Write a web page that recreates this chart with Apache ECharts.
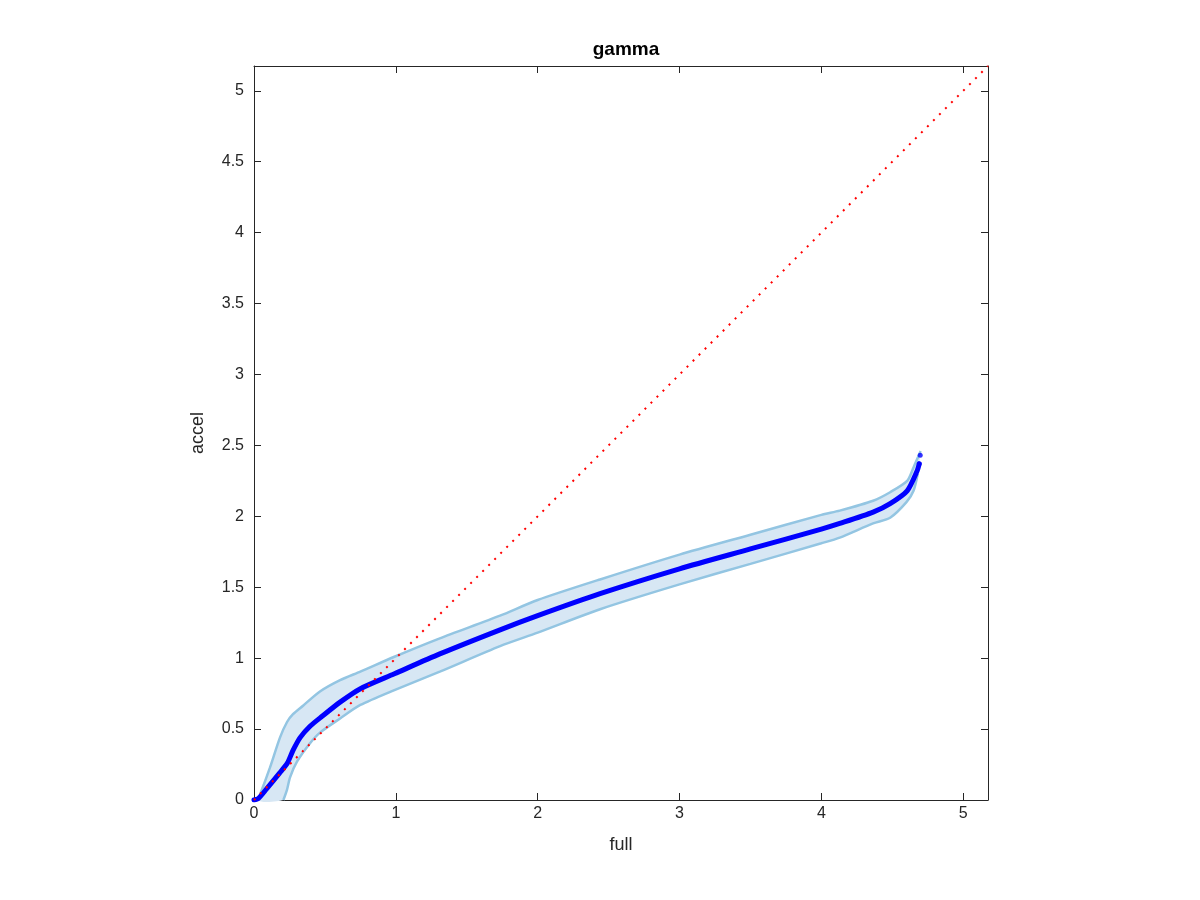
<!DOCTYPE html>
<html>
<head>
<meta charset="utf-8">
<script src="https://cdn.jsdelivr.net/npm/echarts@6/dist/echarts.min.js"></script>
<style>html,body{margin:0;padding:0;background:#fff;}#c{width:1200px;height:900px;}</style>
</head>
<body>
<div id="c"></div>
<script>
// ---- data ----
const axisMax = 5.175;
const xTicks = [0, 1, 2, 3, 4, 5];
const yTicks = [0, 0.5, 1, 1.5, 2, 2.5, 3, 3.5, 4, 4.5, 5];

const centerX = [0, 0.03, 0.09, 0.18, 0.235, 0.275, 0.325, 0.395, 0.48, 0.607, 0.75, 0.99, 1.31, 1.735, 2.0, 2.44, 3.0, 3.5, 4.0, 4.13, 4.365, 4.485, 4.605, 4.675, 4.69];
const centerY = [0, 0.01, 0.08, 0.19, 0.26, 0.35, 0.44, 0.52, 0.59, 0.69, 0.785, 0.89, 1.03, 1.20, 1.30, 1.455, 1.63, 1.77, 1.91, 1.95, 2.03, 2.09, 2.18, 2.32, 2.37];

const tailX = [4.69, 4.697];
const tailY = [2.37, 2.43];

const upperX = [0.03, 0.113, 0.183, 0.233, 0.275, 0.346, 0.465, 0.607, 0.75, 0.99, 1.31, 1.735, 2.0, 2.44, 3.0, 3.5, 4.0, 4.13, 4.365, 4.485, 4.605, 4.65, 4.70];
const upperY = [0.0, 0.23, 0.44, 0.55, 0.605, 0.665, 0.765, 0.845, 0.905, 1.01, 1.14, 1.30, 1.41, 1.555, 1.73, 1.87, 2.01, 2.04, 2.11, 2.17, 2.25, 2.345, 2.46];

const lowerX = [0.207, 0.232, 0.254, 0.303, 0.395, 0.465, 0.607, 0.75, 0.99, 1.31, 1.735, 2.0, 2.44, 3.0, 3.5, 4.0, 4.13, 4.365, 4.485, 4.6, 4.65, 4.68];
const lowerY = [0, 0.07, 0.16, 0.27, 0.40, 0.475, 0.575, 0.67, 0.775, 0.905, 1.085, 1.18, 1.345, 1.52, 1.665, 1.81, 1.85, 1.95, 1.99, 2.10, 2.18, 2.30];

const refX = [0, axisMax];
const refY = [0, axisMax];

// ---- build ----
const zip = (a, b) => a.map((v, i) => [v, b[i]]);
const centerData = zip(centerX, centerY);
const upperData = zip(upperX, upperY);
const lowerData = zip(lowerX, lowerY);
const tailData = zip(tailX, tailY);
const refData = zip(refX, refY);

const font = 'Liberation Sans, Arial, Helvetica, sans-serif';
const axisCol = '#262626';
const SMOOTH = 0.25;

function mkX(pos, showLabel) {
  return {
    type: 'value', position: pos, min: 0, max: axisMax, interval: 1,
    name: showLabel ? 'full' : '', nameLocation: 'middle', nameGap: 36,
    nameTextStyle: { fontFamily: font, fontSize: 18, color: axisCol },
    axisLine: { show: true, onZero: false, lineStyle: { color: axisCol, width: 1 } },
    axisTick: { show: true, inside: true, length: 7, lineStyle: { color: axisCol } },
    axisLabel: { show: showLabel, showMaxLabel: false, margin: 6, fontFamily: font, fontSize: 16, color: axisCol,
      formatter: v => xTicks.indexOf(v) >= 0 ? String(v) : '' },
    splitLine: { show: false }
  };
}
function mkY(pos, showLabel) {
  return {
    type: 'value', position: pos, min: 0, max: axisMax, interval: 0.5,
    name: showLabel ? 'accel' : '', nameLocation: 'middle', nameGap: 47,
    nameTextStyle: { fontFamily: font, fontSize: 18, color: axisCol },
    axisLine: { show: true, onZero: false, lineStyle: { color: axisCol, width: 1 } },
    axisTick: { show: true, inside: true, length: 7, lineStyle: { color: axisCol } },
    axisLabel: { show: showLabel, showMaxLabel: false, margin: 10, fontFamily: font, fontSize: 16, color: axisCol,
      formatter: v => yTicks.indexOf(v) >= 0 ? String(v) : '' },
    splitLine: { show: false }
  };
}

const chart = echarts.init(document.getElementById('c'), null, { renderer: 'canvas' });
chart.setOption({
  animation: false,
  backgroundColor: '#ffffff',
  title: {
    text: 'gamma', left: 621, top: 35, textAlign: 'center',
    textStyle: { fontFamily: font, fontSize: 19, fontWeight: 'bold', color: '#000' }
  },
  grid: { left: 254, right: 212, top: 66, bottom: 100, containLabel: false },
  xAxis: [mkX('bottom', true), mkX('top', false)],
  yAxis: [mkY('left', true), mkY('right', false)],
  series: [
    {
      type: 'custom', xAxisIndex: 0, yAxisIndex: 0, z: 1,
      data: [[0, 0]],
      renderItem: function (params, api) {
        if (params.dataIndex !== 0) return null;
        const up = upperData.map(p => api.coord(p));
        const lo = lowerData.map(p => api.coord(p)).reverse();
        return {
          type: 'group',
          children: [{
            type: 'polygon',
            shape: { points: up.concat(lo), smooth: SMOOTH },
            style: { fill: '#d7e7f4', stroke: null }
          }]
        };
      },
      silent: true
    },
    {
      type: 'line', data: upperData, showSymbol: false, z: 2, silent: true, smooth: SMOOTH,
      lineStyle: { color: '#93c5e2', width: 2.5 }
    },
    {
      type: 'line', data: lowerData, showSymbol: false, z: 2, silent: true, smooth: SMOOTH,
      lineStyle: { color: '#93c5e2', width: 2.5 }
    },
    {
      type: 'line', data: centerData, showSymbol: false, z: 3, silent: true, smooth: SMOOTH,
      lineStyle: { color: '#0000ff', width: 5, cap: 'round', join: 'round' }
    },
    {
      type: 'scatter', data: tailData, symbolSize: 5, z: 3, silent: true,
      itemStyle: { color: '#0000ff' }
    },
    {
      type: 'line', data: refData, showSymbol: false, z: 4, silent: true,
      lineStyle: { color: '#ff0000', width: 2, type: [2, 6.5] }
    }
  ]
});
</script>
</body>
</html>
